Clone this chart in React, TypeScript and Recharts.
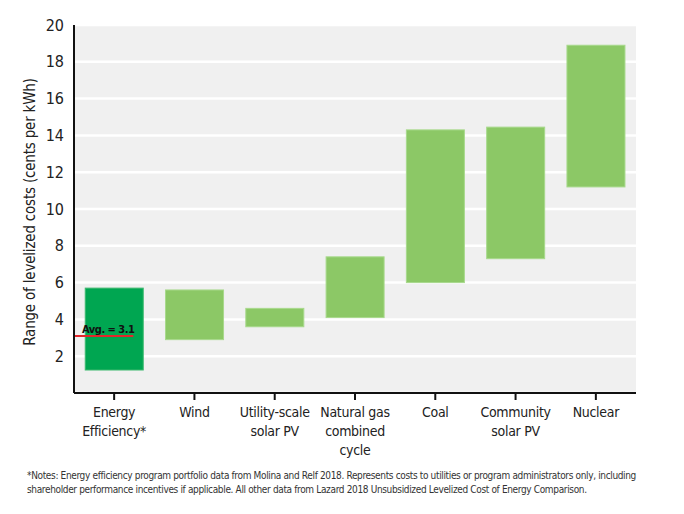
import React from 'react';
import { BarChart, Bar, XAxis, YAxis, CartesianGrid, Cell, Label } from 'recharts';

const categories = ['Energy\nEfficiency*', 'Wind', 'Utility-scale\nsolar PV', 'Natural gas\ncombined\ncycle', 'Coal', 'Community\nsolar PV', 'Nuclear'];
const lows = [1.25, 2.9, 3.6, 4.1, 6.0, 7.3, 11.2];
const highs = [5.7, 5.6, 4.6, 7.4, 14.3, 14.45, 18.9];
const yTicks = [2, 4, 6, 8, 10, 12, 14, 16, 18, 20];
const avgValue = 3.1;
const avgLabel = 'Avg. = 3.1';
const yLabel = 'Range of levelized costs (cents per kWh)';
const footnote1 = '*Notes: Energy efficiency program portfolio data from Molina and Relf 2018. Represents costs to utilities or program administrators only, including';
const footnote2 = 'shareholder performance incentives if applicable. All other data from Lazard 2018 Unsubsidized Levelized Cost of Energy Comparison.';

const FONT = '"DejaVu Sans Condensed", "DejaVu Sans", sans-serif';
const GAP = 0.14;

const data = categories.map((c, i) => ({ name: c, range: [lows[i], highs[i]], low: lows[i], high: highs[i] }));

const XTick = (props: any) => {
  const { x, y, payload } = props;
  const lines = String(payload.value).split('\n');
  return (
    <text x={x} y={y} textAnchor="middle" fontFamily={FONT} fontSize={14} fill="#222"
      style={{ fontStretch: 'condensed', letterSpacing: '-0.3px' }}>
      {lines.map((l, i) => (
        <tspan key={i} x={x} dy={i === 0 ? 15 : 19}>{l}</tspan>
      ))}
    </text>
  );
};

const RangeShape = (props: any) => {
  const { x, y, width, height, fill, stroke, index, payload } = props;
  const rect = <rect x={x} y={y} width={width} height={height} fill={fill} stroke={stroke} strokeWidth={1} />;
  if (index !== 0) return rect;
  const p = payload || data[0];
  const yAvg = y + height * (p.high - avgValue) / (p.high - p.low);
  const band = width / (1 - 2 * GAP);
  const left = x - band * GAP;
  const right = x + width * 0.83;
  return (
    <g>
      {rect}
      <line x1={left} x2={right} y1={yAvg} y2={yAvg} stroke="#e3262b" strokeWidth={2} />
      <text x={right + 1} y={yAvg - 3} textAnchor="end" fontFamily={FONT} fontSize={11} fontWeight="bold" fill="#111"
        style={{ fontStretch: 'condensed', letterSpacing: '-0.5px' }}>{avgLabel}</text>
    </g>
  );
};

export default function App() {
  return (
    <div style={{ position: 'absolute', left: 0, top: 0, width: 684, height: 514, background: '#fff', fontFamily: FONT, fontStretch: 'condensed' }}>
      <BarChart width={684} height={460} data={data} margin={{ top: 25, right: 48, bottom: 7, left: 34 }} barCategoryGap={`${GAP * 100}%`}>
        <CartesianGrid fill="#f0f0f0" vertical={false} stroke="#ffffff" strokeWidth={2.5} />
        <XAxis dataKey="name" interval={0} height={60} tick={<XTick />} tickSize={7} tickMargin={2}
          axisLine={{ stroke: '#111', strokeWidth: 2 }} tickLine={{ stroke: '#111', strokeWidth: 2 }} />
        <YAxis domain={[0, 20]} ticks={yTicks} width={40} tickLine={false} tickMargin={4}
          axisLine={{ stroke: '#111', strokeWidth: 2 }}
          tick={{ fontFamily: FONT, fontSize: 16, fill: '#222', style: { fontStretch: 'condensed' } }}>
          <Label content={(p: any) => {
            const vb = p.viewBox;
            const cx = vb.x - 4;
            const cy = vb.y + vb.height / 2 + 3;
            return (
              <text x={cx} y={cy} transform={`rotate(-90 ${cx} ${cy})`} textAnchor="middle" dominantBaseline="middle"
                fontFamily={FONT} fontSize={15} fill="#222" style={{ fontStretch: 'condensed', letterSpacing: '-0.2px' }}>{yLabel}</text>
            );
          }} />
        </YAxis>
        <Bar dataKey="range" isAnimationActive={false} shape={<RangeShape />}>
          {data.map((d, i) => (
            <Cell key={i} fill={i === 0 ? '#00a651' : '#8cc866'} stroke={i === 0 ? '#3cb96f' : '#a8d98c'} />
          ))}
        </Bar>
      </BarChart>
      <div style={{ position: 'absolute', left: 27, top: 469, fontSize: 10, lineHeight: '14px', color: '#333', whiteSpace: 'nowrap', letterSpacing: '-0.35px' }}>
        <div>{footnote1}</div>
        <div>{footnote2}</div>
      </div>
    </div>
  );
}
